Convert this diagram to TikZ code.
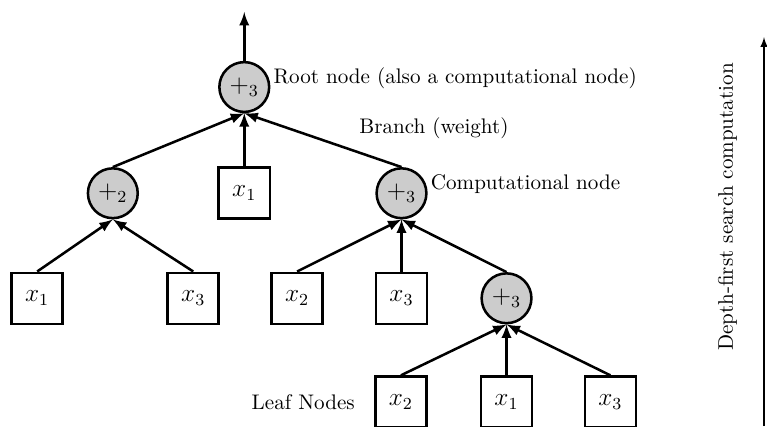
\documentclass[tikz,border=0pt]{standalone}
\usepackage{amsmath}
\usepackage{tikz}
\usetikzlibrary{arrows,positioning}

\tikzset{
  opnode/.style={circle, draw, line width=1.2pt, fill=gray!40, minimum size=0.83cm, inner sep=0pt, font=\large},
  varnode/.style={rectangle, draw, line width=1.2pt, minimum size=0.85cm, inner sep=0pt, font=\large},
  branch/.style={-latex, line width=1.2pt},
  lbl/.style={right=-2pt of #1, yshift=0.15cm}
}

\begin{document}
\begin{tikzpicture}
    \useasboundingbox (0,0) rectangle (12.78,7.1);

    % root node
    \node [opnode] (root) at (4.07,5.65) {$+_3$};
    \coordinate (out) at (4.07,6.9);
    \draw [branch] (root) -- (out);
    \node [lbl=root] (rootlbl) {Root node (also a computational node)};

    % second level
    \node [opnode] (plusA) at (1.88,3.88) {$+_2$};
    \node [varnode] (xA) at (4.07,3.88) {$x_1$};
    \node [opnode] (plusB) at (6.69,3.88) {$+_3$};
    \node [lbl=plusB] (complbl) {Computational node};
    \node (brlbl) at (7.23,4.97) {Branch (weight)};
    \draw [branch] (plusA.north) -- (root.south);
    \draw [branch] (xA) -- (root);
    \draw [branch] (plusB.north) -- (root.south);

    % third level
    \node [varnode] (xB) at (0.62,2.13) {$x_1$};
    \node [varnode] (xC) at (3.22,2.13) {$x_3$};
    \node [varnode] (xD) at (4.95,2.13) {$x_2$};
    \node [varnode] (xE) at (6.69,2.13) {$x_3$};
    \node [opnode] (plusC) at (8.44,2.13) {$+_3$};
    \draw [branch] (xB.north) -- (plusA.south);
    \draw [branch] (xC.north) -- (plusA.south);
    \draw [branch] (xD.north) -- (plusB.south);
    \draw [branch] (xE) -- (plusB);
    \draw [branch] (plusC.north) -- (plusB.south);

    % leaves
    \node [varnode] (leafA) at (6.68,0.40) {$x_2$};
    \node [varnode] (leafB) at (8.44,0.40) {$x_1$};
    \node [varnode] (leafC) at (10.17,0.40) {$x_3$};
    \node [left=0.2cm of leafA] (leaflbl) {Leaf Nodes};
    \draw [branch] (leafA.north) -- (plusC.south);
    \draw [branch] (leafB) -- (plusC);
    \draw [branch] (leafC.north) -- (plusC.south);

    % order of computation
    \coordinate (dfsbot) at (12.73,0);
    \coordinate (dfstop) at (12.73,6.48);
    \draw [-latex, semithick] (dfsbot) -- (dfstop);
    \node [rotate=90] (dfslbl) at (12.12,3.65) {Depth-first search computation};
\end{tikzpicture}
\end{document}
